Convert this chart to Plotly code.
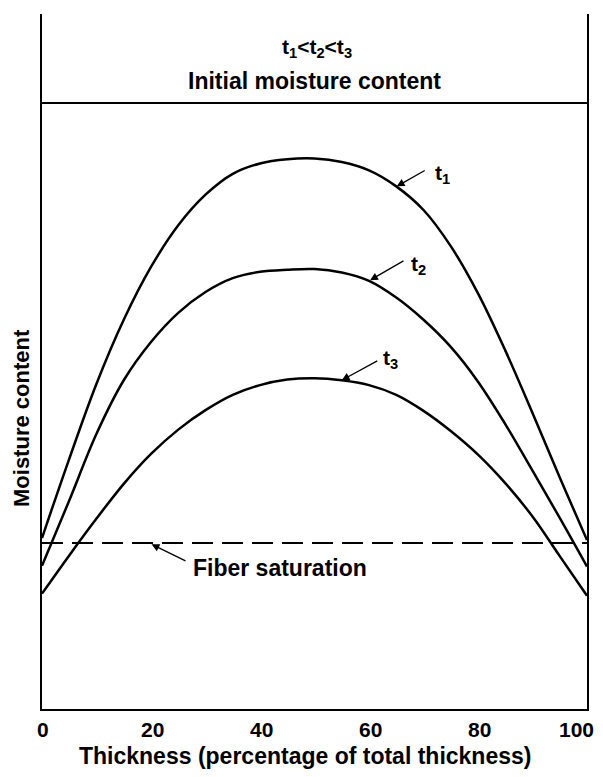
import plotly.graph_objects as go

# thickness positions (% of total thickness)
x_pos = [0, 5, 10, 15, 20, 25, 30, 35, 40, 45, 50, 55, 60, 65, 70, 75, 80, 85, 90, 95, 100]

# moisture content profiles (arbitrary units)
t1_vals = [24.6, 36.0, 46.8, 56.0, 63.6, 69.6, 74.0, 77.0, 78.5, 79.1, 79.2,
           78.7, 77.5, 75.2, 71.8, 66.6, 59.8, 51.6, 42.6, 33.3, 24.3]
t2_vals = [20.6, 30.0, 39.6, 47.3, 52.8, 57.0, 60.0, 62.0, 62.9, 63.2, 63.3,
           62.8, 61.6, 59.2, 56.0, 52.1, 47.1, 41.0, 34.3, 27.5, 20.5]
t3_vals = [16.6, 22.1, 27.4, 32.4, 36.7, 40.2, 43.0, 45.2, 46.6, 47.4, 47.6,
           47.3, 46.6, 45.2, 42.9, 40.0, 36.6, 32.5, 27.7, 22.0, 16.3]

initial_mc = 87.2
fiber_sat = 23.9

x_ticks = [0, 20, 40, 60, 80, 100]
x_tick_labels = ["0", "20", "40", "60", "80", "100"]

FONT = "Liberation Sans, Arial, sans-serif"

fig = go.Figure()

for vals in (t1_vals, t2_vals, t3_vals):
    fig.add_trace(go.Scatter(x=x_pos, y=vals, mode="lines",
                             line=dict(color="black", width=2.5, shape="spline"),
                             showlegend=False, hoverinfo="skip"))

fig.add_trace(go.Scatter(x=[0, 100], y=[initial_mc, initial_mc], mode="lines",
                         line=dict(color="black", width=2),
                         showlegend=False, hoverinfo="skip"))
fig.add_trace(go.Scatter(x=[0, 100], y=[fiber_sat, fiber_sat], mode="lines",
                         line=dict(color="black", width=2, dash="21px,9px"),
                         showlegend=False, hoverinfo="skip"))

ann = []
# x tick labels placed at the axis positions (last one right-aligned to stay on the page)
for i, (tv, tl) in enumerate(zip(x_ticks, x_tick_labels)):
    last = i == len(x_ticks) - 1
    ann.append(dict(x=tv, y=(709 - 729) / 695, xref="x", yref="paper",
                    text="<b>" + tl + "</b>", showarrow=False,
                    font=dict(family=FONT, size=21, color="black"),
                    xanchor="right" if last else "center", yanchor="middle",
                    xshift=9 if last else 1))

# header texts
ann.append(dict(x=0.505, y=(709 - 48) / 695, xref="paper", yref="paper",
                text="<b>t<sub>1</sub>&lt;t<sub>2</sub>&lt;t<sub>3</sub></b>",
                showarrow=False, font=dict(family=FONT, size=21, color="black"),
                xanchor="center", yanchor="middle"))
ann.append(dict(x=0.5, y=(709 - 81) / 695, xref="paper", yref="paper",
                text="<b>Initial moisture content</b>",
                showarrow=False, font=dict(family=FONT, size=23, color="black"),
                xanchor="center", yanchor="middle"))

# curve labels with arrows: (tip_x, tip_y, tail_x, tail_y, text_x, text_y, text)
labels = [
    (65.1, 75.2, 70.5, 77.6, 73.4, 77.0, "t<sub>1</sub>"),
    (60.2, 61.7, 66.6, 64.6, 69.0, 63.9, "t<sub>2</sub>"),
    (55.0, 47.3, 61.8, 50.2, 63.9, 50.4, "t<sub>3</sub>"),
]
for tx, ty, ax, ay, lx, ly, txt in labels:
    ann.append(dict(x=tx, y=ty, ax=ax, ay=ay, xref="x", yref="y", axref="x", ayref="y",
                    text="", showarrow=True, arrowhead=2, arrowsize=1.2,
                    arrowwidth=1.3, arrowcolor="black"))
    ann.append(dict(x=lx, y=ly, xref="x", yref="y", text="<b>" + txt + "</b>",
                    showarrow=False, font=dict(family=FONT, size=21, color="black"),
                    xanchor="center", yanchor="middle"))

# fiber saturation label
ann.append(dict(x=20.1, y=fiber_sat - 0.2, ax=26.6, ay=21.2, xref="x", yref="y",
                axref="x", ayref="y", text="", showarrow=True, arrowhead=2,
                arrowsize=1.2, arrowwidth=1.3, arrowcolor="black"))
ann.append(dict(x=27.3, y=20.3, xref="x", yref="y", text="<b>Fiber saturation</b>",
                showarrow=False, font=dict(family=FONT, size=23, color="black"),
                xanchor="left", yanchor="middle"))

# axis titles
ann.append(dict(x=(305 - 42) / 545, y=(709 - 756) / 695, xref="paper", yref="paper",
                text="<b>Thickness (percentage of total thickness)</b>",
                showarrow=False, font=dict(family=FONT, size=23, color="black"),
                xanchor="center", yanchor="middle"))
ann.append(dict(x=(21 - 42) / 545, y=(709 - 418) / 695, xref="paper", yref="paper",
                text="<b>Moisture content</b>", textangle=-90,
                showarrow=False, font=dict(family=FONT, size=22, color="black"),
                xanchor="center", yanchor="middle"))

# the page body adds an 8px offset; figure is sized so the plot lands in place
# and the page does not overflow the window vertically
fig.update_layout(
    width=595, height=761,
    margin=dict(l=34, r=16, t=6, b=60, autoexpand=False),
    paper_bgcolor="white", plot_bgcolor="white",
    annotations=ann,
    xaxis=dict(range=[0, 100], tickvals=x_ticks, showticklabels=False,
               showgrid=False, zeroline=False, showline=True, linecolor="black",
               linewidth=2, ticks="", automargin=False),
    yaxis=dict(range=[0, 100], showgrid=False, zeroline=False, showline=True,
               mirror=True, linecolor="black", linewidth=2, ticks="",
               showticklabels=False, automargin=False),
)

fig.write_html("out.html")
